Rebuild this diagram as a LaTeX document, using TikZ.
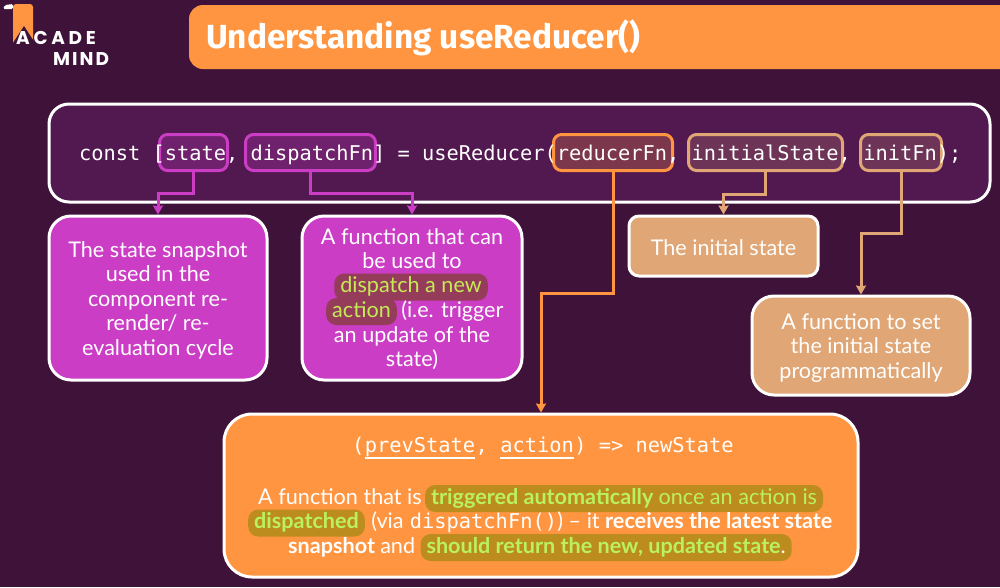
\documentclass[tikz,border=0pt]{standalone}
\usepackage{fontspec}
\setmainfont{Lato}
\setmonofont{DejaVu Sans Mono}
\newfontfamily\titlefont{Fira Sans}
\newfontfamily\logofont[LetterSpace=11]{Poppins}
\newfontfamily\logowide[LetterSpace=20]{Poppins}
\usepackage{tikz}
\usetikzlibrary{positioning, arrows.meta}
\definecolor{bgdark}{HTML}{3F1239}
\definecolor{codefill}{HTML}{521850}
\definecolor{violetc}{HTML}{CB3DC4}
\definecolor{orangec}{HTML}{FF9540}
\definecolor{tanc}{HTML}{E0A675}
\definecolor{limec}{HTML}{C4EA55}
\definecolor{limeb}{HTML}{B9F25E}
\definecolor{hlviolet}{HTML}{963C5B}
\definecolor{hlorange}{HTML}{BD8C1E}
\tikzset{
  infobox/.style={draw=white, line width=3pt, rounded corners=22pt, inner sep=0pt},
  slot/.style={line width=3pt, rounded corners=8pt, inner sep=0pt, minimum height=36pt},
  link/.style={line width=3pt, -{Stealth[length=9pt, width=10pt, inset=1pt]}},
  seg/.style={inner sep=0pt, text=white, align=center, font=\fontsize{21.6}{24.5}\selectfont},
  hl/.style={seg, fill=#1, rounded corners=10pt, inner xsep=6pt, inner ysep=4pt, text height=15pt, text depth=4pt},
  code/.style={inner sep=0pt, text=white, font=\fontsize{20.35}{24}\ttfamily},
}
\begin{document}
\begin{tikzpicture}[x=1pt, y=-1pt, node distance=0pt]
  \useasboundingbox (0,0) rectangle (1000,587);
  \fill[bgdark] (0,0) rectangle (1000,587);
  % logo
  \fill[orangec] (13,8) [rounded corners=3pt] -- (13,4) -- (33,4) [sharp corners] -- (33,42) -- (13,43) -- cycle;
  \fill[white, rounded corners=1.5pt] (3,9) -- (5,5) -- (13,4) -- (13,9) -- cycle;
  \fill[bgdark] (11,46) -- (24,26) -- (37,46) -- cycle;
  \node[anchor=base west, inner sep=0pt, text=white, font=\logowide\bfseries\fontsize{18.5}{20}\selectfont] (acade) at (16,44) {ACADE};
  \node[anchor=base west, inner sep=0pt, text=white, font=\logofont\bfseries\fontsize{18.5}{20}\selectfont] (mind) at (53,65) {MIND};
  % title
  \fill[orangec] (1000,5) [rounded corners=14pt] -- (189,5) -- (189,69) [sharp corners] -- (1000,69) -- cycle;
  \node[anchor=base west, inner sep=0pt, text=white, font=\titlefont\bfseries\fontsize{33.4}{36}\selectfont] (title) at (206,48) {Understanding useReducer()};
  % code line
  \node[draw=white, fill=codefill, line width=3pt, rounded corners=20pt, minimum width=941pt, minimum height=98pt, inner sep=0pt] (codebox) at (519.5,153) {};
  \node[slot, draw=violetc, fill=violetc!25!codefill, minimum width=68pt] (state) at (193.5,152.5) {};
  \node[slot, draw=violetc, fill=violetc!25!codefill, minimum width=130pt] (dispatch) at (310.5,152.5) {};
  \node[slot, draw=orangec, fill=orangec!25!codefill, minimum width=119pt] (reducer) at (613,152.5) {};
  \node[slot, draw=tanc, fill=tanc!20!codefill, minimum width=154pt] (initial) at (765.5,152.5) {};
  \node[slot, draw=tanc, fill=tanc!20!codefill, minimum width=81pt] (initfn) at (901,152.5) {};
  \node[code, anchor=base west] (signature) at (79,160) {const [state, dispatchFn] = useReducer(reducerFn, initialState, initFn);};
  % explanation boxes
  \node[infobox, fill=violetc, minimum width=218pt, minimum height=164pt] (statebox) at (158,298) {};
  \node[infobox, fill=violetc, minimum width=220pt, minimum height=164pt] (dispatchbox) at (412,298) {};
  \node[infobox, fill=tanc, rounded corners=10pt, minimum width=189pt, minimum height=60pt] (initialbox) at (723.5,246) {};
  \node[infobox, fill=tanc, minimum width=218pt, minimum height=99pt] (initfnbox) at (861,345.5) {};
  \node[infobox, fill=orangec, rounded corners=28pt, minimum width=634pt, minimum height=163pt] (reducerbox) at (541,495.5) {};
  \node[seg] (statetext) at (158,300) {The state snapshot\\used in the\\component re-\\render/ re-\\evaluation cycle};
  \node[seg] (initialtext) at (723.5,248) {The initial state};
  \node[seg] (initfntext) at (861,348) {A function to set\\the initial state\\programmatically};
  % text of the dispatch box
  \node[seg, anchor=base] (da) at (412,244) {A function that can};
  \node[seg, anchor=base] (db) at (412,268.5) {be used to};
  \node[hl=hlviolet, anchor=base, text=limec] (dc) at (411,292.5) {dispatch a new};
  \node[hl=hlviolet, anchor=base west, text=limec] (dd) at (326,317) {action};
  \node[seg, base right=4pt of dd] (de) {(i.e. trigger};
  \node[seg, anchor=base] (df) at (412,342) {an update of the};
  \node[seg, anchor=base] (dg) at (412,366.5) {state)};
  % text of the reducer box
  \node[code, anchor=base west] (rparen) at (352,452) {(};
  \node[code, base right=0pt of rparen] (prev) {prevState};
  \node[code, base right=0pt of prev] (comma) {,};
  \node[code, base right=12.25pt of comma] (act) {action};
  \node[code, base right=0pt of act] (rest) {) => newState};
  \draw[white, line width=2pt] (prev.base west |- 0,458) -- (prev.base east |- 0,458);
  \draw[white, line width=2pt] (act.base west |- 0,458) -- (act.base east |- 0,458);
  \node[seg, anchor=base west] (ra) at (258,504) {A function that is};
  \node[hl=hlorange, base right=3pt of ra, text=limeb] (rb) {\bfseries triggered automatically \mdseries once an action is};
  \node[hl=hlorange, anchor=base west, text=limeb] (rc) at (248,528.5) {\bfseries dispatched};
  \node[seg, base right=6pt of rc] (rd) {(via};
  \node[code, base right=6pt of rd] (re) {dispatchFn()};
  \node[seg, base right=0pt of re] (rf) {) -- it \bfseries receives the latest state};
  \node[seg, anchor=base west] (rg) at (288,553) {\bfseries snapshot \mdseries and};
  \node[hl=hlorange, base right=5pt of rg, text=limeb] (rh) {\bfseries should return the new, updated state\mdseries\textcolor{white}{.}};
  % connectors
  \draw[link, violetc] (state.south) -- (state.south |- 0,193) -| (statebox.north);
  \draw[link, violetc] (dispatch.south) -- (dispatch.south |- 0,193) -| (dispatchbox.north);
  \draw[link, orangec] (reducer.south) -- (reducer.south |- 0,293) -| (reducerbox.north);
  \draw[link, tanc] (initial.south) -- (initial.south |- 0,194) -| (initialbox.north);
  \draw[link, tanc] (initfn.south) -- (initfn.south |- 0,233) -| (initfnbox.north);
\end{tikzpicture}
\end{document}
